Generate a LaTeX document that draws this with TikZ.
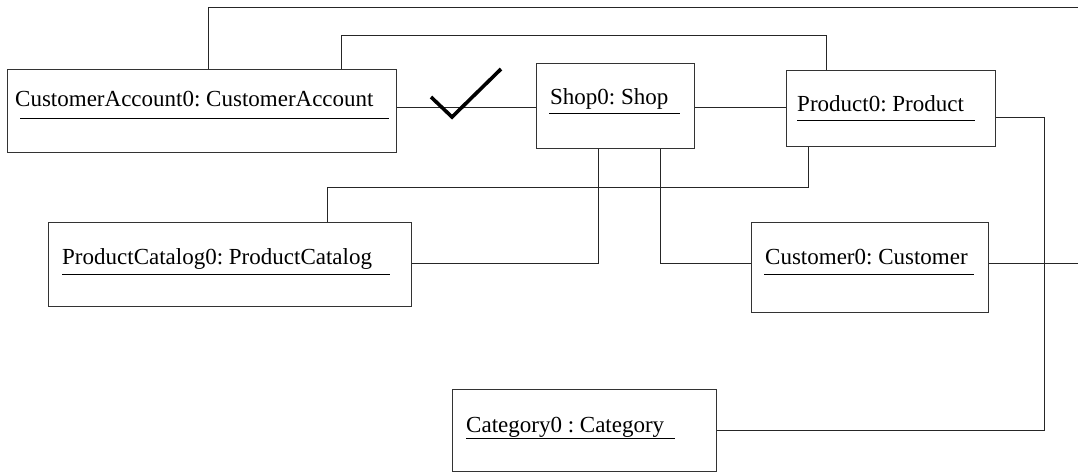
\documentclass[tikz,border=0pt]{standalone}
\usepackage{fontspec}
\setmainfont{Liberation Serif}
\frenchspacing
\begin{document}
\begin{tikzpicture}[x=1pt,y=-1pt,
  objbox/.style={draw=black!80, line width=1.1pt, inner sep=0pt, anchor=north west, fill=white},
  lbl/.style={anchor=base west, inner sep=0pt, font=\fontsize{23}{27}\selectfont\frenchspacing},
  uline/.style={draw=black, line width=0.9pt},
  conn/.style={draw=black!85, line width=1pt},
  tick/.style={draw=black, line width=3.6pt}]
\useasboundingbox (0,0) rectangle (1078,472);
% free ends at the right margin
\coordinate (eTop) at (1078,7);
\coordinate (eCust) at (1078,263);
\coordinate (jRight) at (1044,117);
% boxes
\node[objbox, minimum width=389pt, minimum height=83pt] (ca) at (7,69) {};
\node[objbox, minimum width=158pt, minimum height=85pt] (shop) at (536,63) {};
\node[objbox, minimum width=209pt, minimum height=76pt] (prod) at (786,70) {};
\node[objbox, minimum width=363pt, minimum height=84pt] (pc) at (48,222) {};
\node[objbox, minimum width=237pt, minimum height=90pt] (cust) at (751,222) {};
\node[objbox, minimum width=264pt, minimum height=82pt] (cat) at (452,389) {};
% labels
\node[lbl] (caT) at (15,106) {CustomerAccount0: CustomerAccount};
\node[lbl] (shopT) at (550,104) {Shop0: Shop};
\node[lbl] (prodT) at (797,111) {Product0: Product};
\node[lbl] (pcT) at (62,264) {ProductCatalog0: ProductCatalog};
\node[lbl] (custT) at (765,264) {Customer0: Customer};
\node[lbl] (catT) at (466,432) {Category0 : Category};
% underlines
\draw[uline] (20,118) -- (389,118);
\draw[uline] (549,113) -- (680,113);
\draw[uline] (797,120) -- (975,120);
\draw[uline] (62,274) -- (390,274);
\draw[uline] (764,274) -- (974,274);
\draw[uline] (466,438) -- (675,438);
% connectors
\draw[conn] ([xshift=201pt]ca.north west) |- (eTop);
\draw[conn] ([xshift=334pt]ca.north west) |- ([xshift=40pt]prod.north west |- 0,35) -- ([xshift=40pt]prod.north west);
\draw[conn] (ca.east |- 0,107) -- (shop.west |- 0,107);
\draw[conn] (shop.east |- 0,107) -- (prod.west |- 0,107);
\draw[conn] (prod.east |- jRight) -- (jRight) |- (cat.east |- 0,430);
\draw[conn] ([xshift=22pt]prod.south west) |- (327,187) -- (pc.north -| 327,0);
\draw[conn] ([xshift=62pt]shop.south west) |- (pc.east |- 0,263);
\draw[conn] ([xshift=124pt]shop.south west) |- (cust.west |- 0,263);
\draw[conn] (cust.east |- eCust) -- (eCust);
% check mark
\draw[tick] (431,97) -- (452,117) -- (501,69);
\end{tikzpicture}
\end{document}
